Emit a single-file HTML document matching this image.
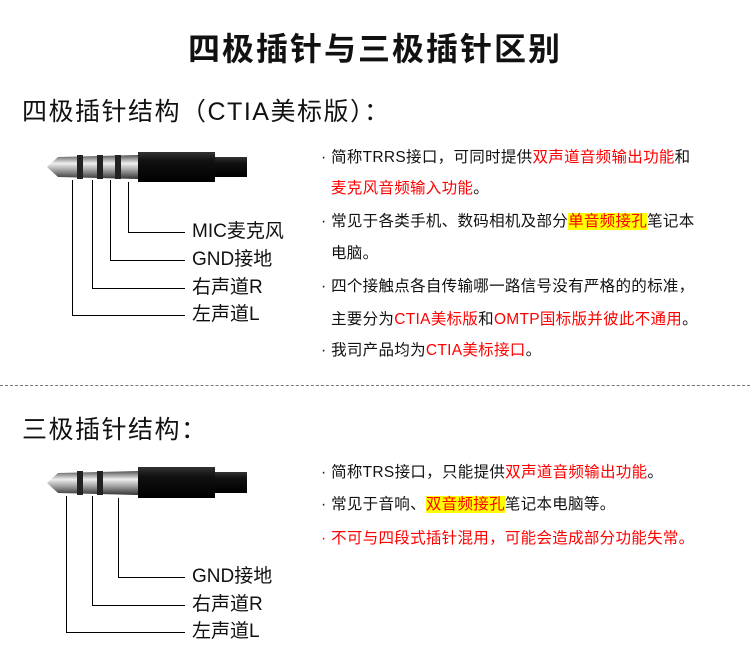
<!DOCTYPE html>
<html><head><meta charset="utf-8"><style>
body{margin:0;background:#fff;width:750px;height:667px;position:relative;overflow:hidden;font-family:"Liberation Sans","Noto Sans CJK SC",sans-serif;color:#111}
.a{position:absolute;white-space:nowrap}
.t{font-size:15.5px;line-height:20px;letter-spacing:.3px}
.r{color:#f00}.y{background:#ff0;color:#f00}
.lab{font-size:19px;line-height:22px}
</style></head><body>
<div class="a" style="left:0;width:750px;top:30px;text-align:center;font-size:32px;font-weight:bold;line-height:38px;letter-spacing:2px">四极插针与三极插针区别</div>
<div class="a" style="left:22px;top:96px;font-size:25px;line-height:32px;letter-spacing:1.5px">四极插针结构（CTIA美标版）：</div>
<div class="a" style="left:22px;top:414px;font-size:25px;line-height:32px;letter-spacing:1.5px">三极插针结构：</div>
<div class="a" style="left:0;top:385px;width:750px;border-top:1px dashed #777"></div>

<svg class="a" style="left:0;top:0" width="320" height="667">
<defs>
<linearGradient id="m" x1="0" y1="0" x2="0" y2="1"><stop offset="0" stop-color="#555"/><stop offset=".35" stop-color="#eee"/><stop offset=".6" stop-color="#aaa"/><stop offset="1" stop-color="#333"/></linearGradient>
<linearGradient id="b" x1="0" y1="0" x2="0" y2="1"><stop offset="0" stop-color="#333"/><stop offset=".3" stop-color="#111"/><stop offset="1" stop-color="#000"/></linearGradient>
</defs>
<g>
<rect x="215" y="157" width="32" height="20" fill="url(#b)"/>
<rect x="138" y="152" width="77" height="30" fill="url(#b)"/>
<path d="M47 167 L58 157 L138 155 L138 179 L58 177 Z" fill="url(#m)"/>
<rect x="77" y="155" width="6" height="24" fill="#222"/>
<rect x="97" y="155" width="6" height="24" fill="#222"/>
<rect x="115" y="155" width="6" height="24" fill="#222"/>
</g>
<g>
<rect x="215" y="472" width="32" height="21" fill="url(#b)"/>
<rect x="138" y="467" width="77" height="31" fill="url(#b)"/>
<path d="M47 483 L58 473 L138 471 L138 495 L58 493 Z" fill="url(#m)"/>
<rect x="77" y="471" width="6" height="24" fill="#222"/>
<rect x="97" y="471" width="6" height="24" fill="#222"/>
</g>
<g fill="none" stroke="#000" stroke-width="1">
<path d="M72.5 180V315.5H185M92.5 180V288.5H185M110.5 180V260.5H185M128.5 182V232.5H185"/>
<path d="M66.5 496V632.5H185M92.5 496V605.5H185M118.5 498V577.5H185"/>
</g>
</svg>
<div class="a lab" style="left:192px;top:221px">MIC麦克风</div>
<div class="a lab" style="left:192px;top:249px">GND接地</div>
<div class="a lab" style="left:192px;top:277px">右声道R</div>
<div class="a lab" style="left:192px;top:304px">左声道L</div>
<div class="a lab" style="left:192px;top:566px">GND接地</div>
<div class="a lab" style="left:192px;top:594px">右声道R</div>
<div class="a lab" style="left:192px;top:621px">左声道L</div>

<div class="a t" style="left:321px;top:148px">· 简称TRRS接口，可同时提供<span class="r">双声道音频输出功能</span>和</div>
<div class="a t" style="left:331px;top:179px"><span class="r">麦克风音频输入功能</span>。</div>
<div class="a t" style="left:321px;top:212px">· 常见于各类手机、数码相机及部分<span class="y">单音频接孔</span>笔记本</div>
<div class="a t" style="left:331px;top:244px">电脑。</div>
<div class="a t" style="left:321px;top:277px">· 四个接触点各自传输哪一路信号没有严格的的标准，</div>
<div class="a t" style="left:331px;top:310px">主要分为<span class="r">CTIA美标版</span>和<span class="r">OMTP国标版并彼此不通用</span>。</div>
<div class="a t" style="left:321px;top:341px">· 我司产品均为<span class="r">CTIA美标接口</span>。</div>

<div class="a t" style="left:321px;top:463px">· 简称TRS接口，只能提供<span class="r">双声道音频输出功能</span>。</div>
<div class="a t" style="left:321px;top:495px">· 常见于音响、<span class="y">双音频接孔</span>笔记本电脑等。</div>
<div class="a t r" style="left:321px;top:529px">· 不可与四段式插针混用，可能会造成部分功能失常。</div>
</body></html>
